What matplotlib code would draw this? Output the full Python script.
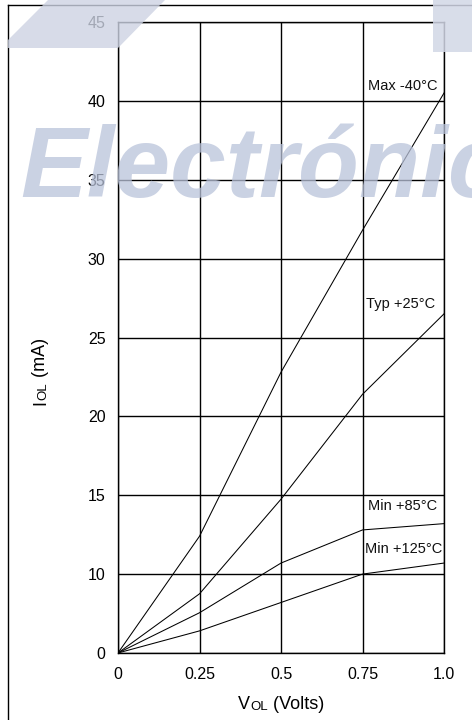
import numpy as np
import matplotlib
matplotlib.use("Agg")
import matplotlib.pyplot as plt
from matplotlib.patches import Polygon, Rectangle
from matplotlib.lines import Line2D

plt.rcParams['font.family'] = ['Liberation Sans', 'DejaVu Sans']

# datos (VOL en volts, IOL en mA)
vol = [0, 0.25, 0.5, 0.75, 1.0]
iol_max_m40 = [0, 12.4, 22.8, 31.8, 40.5]
iol_typ_25 = [0, 7.5, 14.75, 21.4, 26.5]
iol_min_85 = [0, 5.1, 10.7, 12.8, 13.2]
iol_min_125 = [0, 2.8, 6.4, 10.0, 10.7]

curvas = [
    (iol_max_m40, 'Max -40°C', (0.9785, 0.899)),
    (iol_typ_25, 'Typ +25°C', (0.972, 0.553)),
    (iol_min_85, 'Min +85°C', (0.9785, 0.233)),
    (iol_min_125, 'Min +125°C', (0.994, 0.165)),
]

x_ticks = [0, 0.25, 0.5, 0.75, 1.0]
x_labels = ['0', '0.25', '0.5', '0.75', '1.0']
y_ticks = [0, 10, 15, 20, 25, 30, 35, 40, 45]
y_labels = ['0', '10', '15', '20', '25', '30', '35', '40', '45']


# el eje del datasheet pone el 0 donde deberia ir el 5
def fwd(y):
    return np.interp(y, [0, 10, 45], [5, 10, 45])


def inv(v):
    return np.interp(v, [5, 10, 45], [0, 10, 45])


fig = plt.figure(figsize=(4.72, 7.2), dpi=100)
ax = fig.add_axes([0.25, 0.0931, 0.6907, 0.8763])

ax.set_yscale('function', functions=(fwd, inv))
ax.set_xlim(0, 1.0)
ax.set_ylim(0, 45)

for ys, nombre, pos in curvas:
    ax.plot(vol, ys, color='black', lw=0.75, zorder=3)
    ax.text(pos[0], pos[1], nombre, transform=ax.transAxes, ha='right', va='center',
            fontsize=10.5, color='#111111', zorder=4)

ax.set_xticks(x_ticks)
ax.set_xticklabels(x_labels)
ax.set_yticks(y_ticks)
ax.set_yticklabels(y_labels)
ax.tick_params(length=0, labelsize=11.5, colors='black')
ax.tick_params(axis='y', pad=9)
ax.tick_params(axis='x', pad=10)
ax.grid(True, color='black', lw=1.0)
for s in ax.spines.values():
    s.set_linewidth(1.0)

# etiquetas de ejes con "OL" mas chico
t1 = fig.text(238 / 472, 1 - 713 / 720, 'V', fontsize=13, ha='left', va='bottom')
a2 = ax.annotate('OL', xy=(1, 0), xycoords=t1, fontsize=9.5, ha='left', va='bottom',
                 annotation_clip=False)
a3 = ax.annotate(' (Volts)', xy=(1, 0), xycoords=a2, fontsize=13, ha='left', va='bottom',
                 annotation_clip=False)

r1 = fig.text(49 / 472, 1 - 405 / 720, 'I', fontsize=13, rotation=90, ha='right', va='bottom')
r2 = ax.annotate('OL', xy=(1, 1), xycoords=r1, fontsize=9.5, rotation=90,
                 ha='right', va='bottom', annotation_clip=False)
r3 = ax.annotate(' (mA)', xy=(1, 1), xycoords=r2, fontsize=13, rotation=90,
                 ha='right', va='bottom', annotation_clip=False)

# marco exterior (solo izquierda y arriba)
fig.add_artist(Line2D([8 / 472, 8 / 472], [0, 1 - 5 / 720], color='black', lw=1.0,
                      transform=fig.transFigure))
fig.add_artist(Line2D([8 / 472, 1], [1 - 5 / 720, 1 - 5 / 720], color='black', lw=1.0,
                      transform=fig.transFigure))


# marca de agua
def px(x, y):
    return (x / 472, 1 - y / 720)


fig.add_artist(Polygon([px(48, 0), px(165, 0), px(118, 48), px(8, 48), px(8, 40)],
                       closed=True, transform=fig.transFigure, facecolor='#cdd3e3',
                       edgecolor='none', alpha=0.8, zorder=5))
fig.add_artist(Rectangle(px(433, 52), 39 / 472, 52 / 720, transform=fig.transFigure,
                         facecolor='#d2d7e6', edgecolor='none', alpha=0.85, zorder=5))
fig.text(20 / 472, 1 - 197 / 720, 'Electrónica', fontsize=72, fontweight='bold',
         fontstyle='italic', color='#b9c3da', alpha=0.75, ha='left', va='baseline',
         zorder=6)

fig.savefig('out.png', dpi=100)
